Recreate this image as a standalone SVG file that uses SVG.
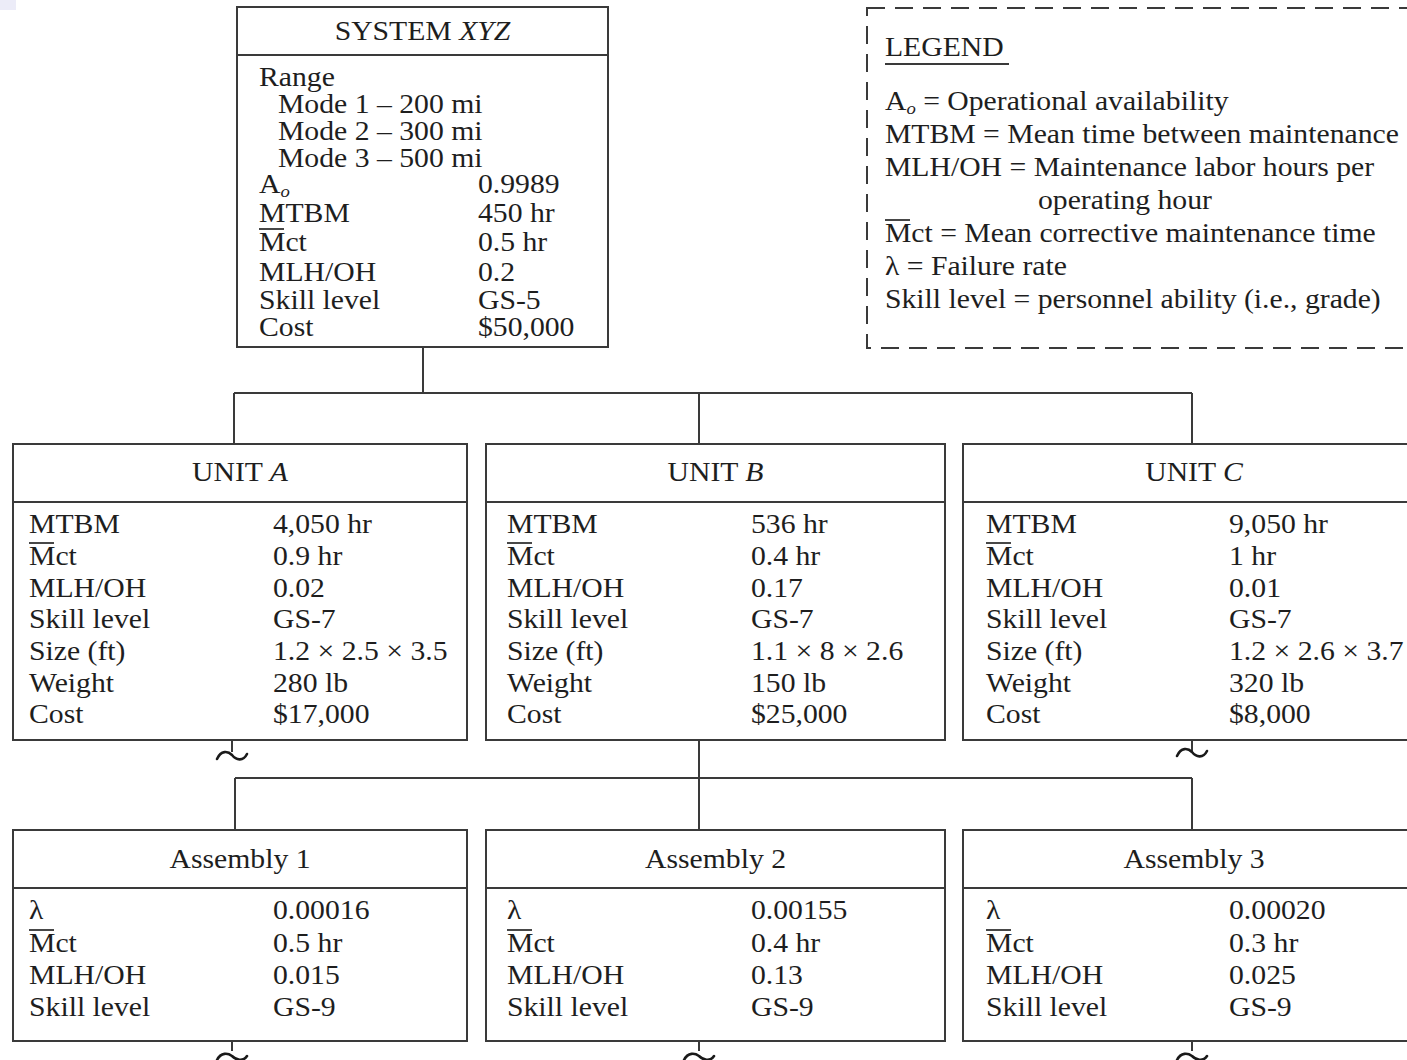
<svg xmlns="http://www.w3.org/2000/svg" width="1407" height="1060" viewBox="0 0 1407 1060">
  <style>
    .box { fill: #fff; stroke: #3a3a3a; stroke-width: 2; }
    .rule { stroke: #3a3a3a; stroke-width: 2; fill: none; }
    .wire { stroke: #3a3a3a; stroke-width: 2; fill: none; }
    .tilde { stroke: #1a1a1a; stroke-width: 2.6; fill: none; stroke-linecap: round; }
    .bar { stroke: #1a1a1a; stroke-width: 1.6; }
    .legend-frame { fill: none; stroke: #3a3a3a; stroke-width: 2; stroke-dasharray: 18 10; }
    text { font-family: "Liberation Serif", "Times New Roman", serif; font-size: 27px; fill: #1e1e1e; }
    .mid { text-anchor: middle; }
    .it { font-style: italic; }
    .sub { font-style: italic; font-size: 17px; }
  </style>

  <!-- faint corner tint -->
  <rect x="0" y="0" width="16" height="10" fill="#ececf8"/>

  <!-- connectors -->
  <g id="connectors">
    <path class="wire" d="M423,347 V393 M234,393 H1192 M234,393 V444 M699,393 V444 M1192,393 V444"/>
    <path class="wire" d="M699,740 V830 M235,778 H1192 M235,778 V830 M1192,778 V830"/>
    <path class="wire" d="M232,740 V752 M1192,740 V751"/>
    <path class="tilde" d="M217,759 C221,750 228,751 232,755 C236,760 243,762 247,754"/>
    <path class="tilde" d="M1177,756 C1181,747 1188,748 1192,752 C1196,757 1203,759 1207,751"/>
    <path class="wire" d="M232,1041 V1051 M699,1041 V1051 M1192,1041 V1051"/>
    <path class="tilde" d="M217,1060 C221,1052 228,1053 232,1056 C236,1060 243,1062 247,1056"/>
    <path class="tilde" d="M684,1060 C688,1052 695,1053 699,1056 C703,1060 710,1062 714,1056"/>
    <path class="tilde" d="M1177,1060 C1181,1052 1188,1053 1192,1056 C1196,1060 1203,1062 1207,1056"/>
  </g>

  <!-- system -->
  <g id="system-xyz">
    <rect class="box" x="237" y="7" width="371" height="340"/>
    <line class="rule" x1="237" y1="55" x2="608" y2="55"/>
    <line class="bar" x1="259" y1="229" x2="284" y2="229"/>
    <g transform="scale(1.1 1)">
      <text class="mid" x="384.1" y="40">SYSTEM <tspan class="it">XYZ</tspan></text>
      <text x="235.5" y="86">Range</text>
      <text x="252.7" y="113">Mode 1 – 200 mi</text>
      <text x="252.7" y="140">Mode 2 – 300 mi</text>
      <text x="252.7" y="167">Mode 3 – 500 mi</text>
      <text x="235.5" y="193">A<tspan class="sub" dy="4">o</tspan></text>
      <text x="235.5" y="222">MTBM</text>
      <text x="235.5" y="251">Mct</text>
      <text x="235.5" y="281">MLH/OH</text>
      <text x="235.5" y="309">Skill level</text>
      <text x="235.5" y="336">Cost</text>
      <text x="434.5" y="193">0.9989</text>
      <text x="434.5" y="222">450 hr</text>
      <text x="434.5" y="251">0.5 hr</text>
      <text x="434.5" y="281">0.2</text>
      <text x="434.5" y="309">GS-5</text>
      <text x="434.5" y="336">$50,000</text>
    </g>
  </g>

  <!-- legend -->
  <g id="legend">
    <rect class="legend-frame" x="867" y="8" width="560" height="340"/>
    <line class="rule" x1="885" y1="64" x2="1009" y2="64"/>
    <line class="bar" x1="885" y1="220" x2="910" y2="220"/>
    <g transform="scale(1.1 1)">
      <text x="804.5" y="56">LEGEND</text>
      <text x="804.5" y="110">A<tspan class="sub" dy="4">o</tspan><tspan dy="-4"> = Operational availability</tspan></text>
      <text x="804.5" y="143">MTBM = Mean time between maintenance</text>
      <text x="804.5" y="176">MLH/OH = Maintenance labor hours per</text>
      <text x="943.6" y="209">operating hour</text>
      <text x="804.5" y="242">Mct = Mean corrective maintenance time</text>
      <text x="804.5" y="275">λ = Failure rate</text>
      <text x="804.5" y="308">Skill level = personnel ability (i.e., grade)</text>
    </g>
  </g>

  <!-- unit A -->
  <g id="unit-a">
    <rect class="box" x="13" y="444" width="454" height="296"/>
    <line class="rule" x1="13" y1="502" x2="467" y2="502"/>
    <line class="bar" x1="29" y1="543" x2="54" y2="543"/>
    <g transform="scale(1.1 1)">
      <text class="mid" x="218.2" y="481">UNIT <tspan class="it">A</tspan></text>
      <text x="26.4" y="533">MTBM</text>
      <text x="26.4" y="565">Mct</text>
      <text x="26.4" y="597">MLH/OH</text>
      <text x="26.4" y="628">Skill level</text>
      <text x="26.4" y="660">Size (ft)</text>
      <text x="26.4" y="692">Weight</text>
      <text x="26.4" y="723">Cost</text>
      <text x="248.2" y="533">4,050 hr</text>
      <text x="248.2" y="565">0.9 hr</text>
      <text x="248.2" y="597">0.02</text>
      <text x="248.2" y="628">GS-7</text>
      <text x="248.2" y="660">1.2 × 2.5 × 3.5</text>
      <text x="248.2" y="692">280 lb</text>
      <text x="248.2" y="723">$17,000</text>
    </g>
  </g>

  <!-- unit B -->
  <g id="unit-b">
    <rect class="box" x="486" y="444" width="459" height="296"/>
    <line class="rule" x1="486" y1="502" x2="945" y2="502"/>
    <line class="bar" x1="507" y1="543" x2="532" y2="543"/>
    <g transform="scale(1.1 1)">
      <text class="mid" x="650.5" y="481">UNIT <tspan class="it">B</tspan></text>
      <text x="460.9" y="533">MTBM</text>
      <text x="460.9" y="565">Mct</text>
      <text x="460.9" y="597">MLH/OH</text>
      <text x="460.9" y="628">Skill level</text>
      <text x="460.9" y="660">Size (ft)</text>
      <text x="460.9" y="692">Weight</text>
      <text x="460.9" y="723">Cost</text>
      <text x="682.7" y="533">536 hr</text>
      <text x="682.7" y="565">0.4 hr</text>
      <text x="682.7" y="597">0.17</text>
      <text x="682.7" y="628">GS-7</text>
      <text x="682.7" y="660">1.1 × 8 × 2.6</text>
      <text x="682.7" y="692">150 lb</text>
      <text x="682.7" y="723">$25,000</text>
    </g>
  </g>

  <!-- unit C -->
  <g id="unit-c">
    <rect class="box" x="963" y="444" width="462" height="296"/>
    <line class="rule" x1="963" y1="502" x2="1425" y2="502"/>
    <line class="bar" x1="986" y1="543" x2="1011" y2="543"/>
    <g transform="scale(1.1 1)">
      <text class="mid" x="1085.5" y="481">UNIT <tspan class="it">C</tspan></text>
      <text x="896.4" y="533">MTBM</text>
      <text x="896.4" y="565">Mct</text>
      <text x="896.4" y="597">MLH/OH</text>
      <text x="896.4" y="628">Skill level</text>
      <text x="896.4" y="660">Size (ft)</text>
      <text x="896.4" y="692">Weight</text>
      <text x="896.4" y="723">Cost</text>
      <text x="1117.3" y="533">9,050 hr</text>
      <text x="1117.3" y="565">1 hr</text>
      <text x="1117.3" y="597">0.01</text>
      <text x="1117.3" y="628">GS-7</text>
      <text x="1117.3" y="660">1.2 × 2.6 × 3.7</text>
      <text x="1117.3" y="692">320 lb</text>
      <text x="1117.3" y="723">$8,000</text>
    </g>
  </g>

  <!-- assembly 1 -->
  <g id="assembly-1">
    <rect class="box" x="13" y="830" width="454" height="211"/>
    <line class="rule" x1="13" y1="888" x2="467" y2="888"/>
    <line class="bar" x1="29" y1="930" x2="54" y2="930"/>
    <g transform="scale(1.1 1)">
      <text class="mid" x="218.2" y="868">Assembly 1</text>
      <text x="26.4" y="919">λ</text>
      <text x="26.4" y="952">Mct</text>
      <text x="26.4" y="984">MLH/OH</text>
      <text x="26.4" y="1016">Skill level</text>
      <text x="248.2" y="919">0.00016</text>
      <text x="248.2" y="952">0.5 hr</text>
      <text x="248.2" y="984">0.015</text>
      <text x="248.2" y="1016">GS-9</text>
    </g>
  </g>

  <!-- assembly 2 -->
  <g id="assembly-2">
    <rect class="box" x="486" y="830" width="459" height="211"/>
    <line class="rule" x1="486" y1="888" x2="945" y2="888"/>
    <line class="bar" x1="507" y1="930" x2="532" y2="930"/>
    <g transform="scale(1.1 1)">
      <text class="mid" x="650.5" y="868">Assembly 2</text>
      <text x="460.9" y="919">λ</text>
      <text x="460.9" y="952">Mct</text>
      <text x="460.9" y="984">MLH/OH</text>
      <text x="460.9" y="1016">Skill level</text>
      <text x="682.7" y="919">0.00155</text>
      <text x="682.7" y="952">0.4 hr</text>
      <text x="682.7" y="984">0.13</text>
      <text x="682.7" y="1016">GS-9</text>
    </g>
  </g>

  <!-- assembly 3 -->
  <g id="assembly-3">
    <rect class="box" x="963" y="830" width="462" height="211"/>
    <line class="rule" x1="963" y1="888" x2="1425" y2="888"/>
    <line class="bar" x1="986" y1="930" x2="1011" y2="930"/>
    <g transform="scale(1.1 1)">
      <text class="mid" x="1085.5" y="868">Assembly 3</text>
      <text x="896.4" y="919">λ</text>
      <text x="896.4" y="952">Mct</text>
      <text x="896.4" y="984">MLH/OH</text>
      <text x="896.4" y="1016">Skill level</text>
      <text x="1117.3" y="919">0.00020</text>
      <text x="1117.3" y="952">0.3 hr</text>
      <text x="1117.3" y="984">0.025</text>
      <text x="1117.3" y="1016">GS-9</text>
    </g>
  </g>
</svg>
